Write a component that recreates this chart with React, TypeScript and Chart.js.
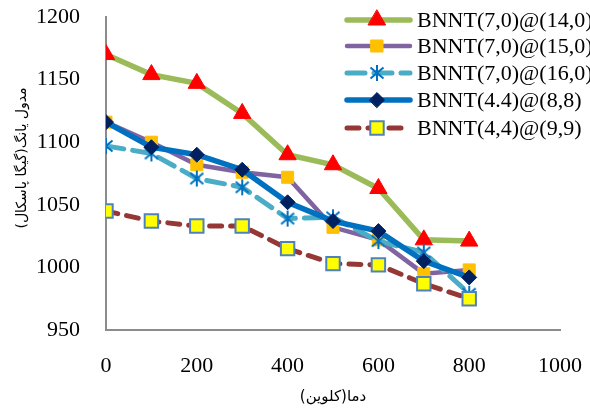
import React, { useEffect, useRef } from "react";
import { Chart, registerables } from "chart.js";
import { drawPoint } from "chart.js/helpers";

Chart.register(...registerables);

const temperatures = [0, 100, 200, 300, 400, 500, 600, 700, 800];
const xTickValues = [0, 200, 400, 600, 800, 1000];
const seriesNames = [
  "BNNT(7,0)@(14,0)",
  "BNNT(7,0)@(15,0)",
  "BNNT(7,0)@(16,0)",
  "BNNT(4.4)@(8,8)",
  "BNNT(4,4)@(9,9)",
];
const s1 = [1170, 1154, 1147, 1123, 1090, 1082, 1063, 1022, 1021];
const s2 = [1116, 1100, 1082, 1076, 1072, 1032, 1022, 995, 998];
const s3 = [1097, 1091, 1071, 1064, 1039, 1040, 1021, 1012, 979];
const s4 = [1116, 1096, 1090, 1078, 1052, 1037, 1029, 1005, 992];
const s5 = [1045, 1037, 1033, 1033, 1015, 1003, 1002, 987, 975];
const xTitle = "دما(کلوین)";
const yTitle = "مدول یانگ(گیگا پاسکال)";

const serif = "'Liberation Serif', 'Times New Roman', serif";
const persian = "'DejaVu Sans', 'Noto Sans', sans-serif";

function makeAsterisk(color: string): HTMLCanvasElement {
  const c = document.createElement("canvas");
  c.width = 18;
  c.height = 18;
  const g = c.getContext("2d")!;
  g.strokeStyle = color;
  g.lineWidth = 2;
  g.lineCap = "butt";
  g.beginPath();
  g.moveTo(9, 1);
  g.lineTo(9, 17);
  g.moveTo(2.5, 3.5);
  g.lineTo(15.5, 14.5);
  g.moveTo(15.5, 3.5);
  g.lineTo(2.5, 14.5);
  g.stroke();
  return c;
}

const legendPlugin = {
  id: "customLegend",
  afterDraw(chart: any) {
    const ctx = chart.ctx;
    const rows = [20, 46, 73, 100, 128];
    chart.data.datasets.forEach((ds: any, i: number) => {
      const y = rows[i];
      ctx.save();
      ctx.strokeStyle = ds.borderColor;
      ctx.lineWidth = ds.borderWidth;
      ctx.lineCap = "round";
      ctx.setLineDash(ds.borderDash || []);
      ctx.beginPath();
      ctx.moveTo(347, y);
      ctx.lineTo(410, y);
      ctx.stroke();
      ctx.setLineDash([]);
      ctx.fillStyle = ds.pointBackgroundColor;
      ctx.strokeStyle = ds.pointBorderColor;
      ctx.lineWidth = ds.pointBorderWidth;
      drawPoint(ctx, { pointStyle: ds.pointStyle, radius: ds.pointRadius, rotation: 0, borderWidth: ds.pointBorderWidth }, 377, y);
      ctx.fillStyle = "#000";
      ctx.font = `22px ${serif}`;
      ctx.textBaseline = "middle";
      ctx.textAlign = "left";
      ctx.fillText(seriesNames[i], 417, y + 1);
      ctx.restore();
    });
    // y axis title
    ctx.save();
    ctx.translate(22, 158);
    ctx.rotate(-Math.PI / 2);
    ctx.fillStyle = "#000";
    ctx.font = `14px ${persian}`;
    ctx.textAlign = "center";
    ctx.textBaseline = "middle";
    ctx.fillText(yTitle, 0, 0);
    ctx.restore();
  },
};

const zeroPad = (s: any) => {
  s.paddingTop = 0;
  s.paddingBottom = 0;
  s.paddingLeft = 0;
  s.paddingRight = 0;
};

export default function App() {
  const ref = useRef<HTMLCanvasElement>(null);
  useEffect(() => {
    const asterisk = makeAsterisk("#0070C0");
    const mk = (
      data: number[],
      color: string,
      width: number,
      dash: number[] | undefined,
      style: any,
      radius: number,
      fill: string,
      border: string,
      bw: number,
      order: number
    ) => ({
      data,
      borderColor: color,
      borderWidth: width,
      borderDash: dash,
      borderCapStyle: "round",
      pointStyle: style,
      pointRadius: radius,
      pointBackgroundColor: fill,
      pointBorderColor: border,
      pointBorderWidth: bw,
      tension: 0,
      order,
    });
    const chart = new Chart(ref.current!, {
      type: "line",
      data: {
        labels: temperatures,
        datasets: [
          mk(s1, "#9BBB59", 5.5, undefined, "triangle", 10, "#FF0000", "#FF0000", 1, 4),
          mk(s2, "#8064A2", 4.5, undefined, "rect", 8.5, "#FFC000", "#FFC000", 1, 3),
          mk(s3, "#4BACC6", 5, [18, 9], asterisk, 8, "#0070C0", "#0070C0", 2, 2),
          mk(s4, "#0070C0", 5.5, undefined, "rectRot", 7.5, "#002060", "#002060", 1, 1),
          mk(s5, "#953735", 5, [12, 9], "rect", 9.5, "#FFFF00", "#4F81BD", 2, 0),
        ] as any,
      },
      options: {
        animation: false,
        responsive: false,
        maintainAspectRatio: false,
        layout: { padding: { top: 17, right: 30, left: 0, bottom: 0 } },
        plugins: { legend: { display: false }, tooltip: { enabled: false } },
        scales: {
          x: {
            type: "linear",
            min: 0,
            max: 1000,
            afterFit: (s: any) => {
              s.height = 79;
              zeroPad(s);
            },
            afterBuildTicks: (s: any) => {
              s.ticks = xTickValues.map((v) => ({ value: v }));
            },
            grid: { display: false },
            border: { display: true, color: "#8C8C8C", width: 2 },
            ticks: {
              color: "#000",
              font: { family: serif, size: 22 },
              padding: 15,
              maxRotation: 0,
              callback: (v: any) => String(v),
            },
            title: {
              display: true,
              text: xTitle,
              color: "#000",
              font: { family: persian, size: 15 },
              padding: { top: 0, bottom: 3 },
            },
          },
          y: {
            min: 950,
            max: 1200,
            afterFit: (s: any) => {
              s.width = 106;
              zeroPad(s);
            },
            grid: { display: false },
            border: { display: true, color: "#8C8C8C", width: 2 },
            ticks: {
              stepSize: 50,
              color: "#000",
              font: { family: serif, size: 22 },
              padding: 18,
              callback: (v: any) => String(v),
            },
          },
        },
      } as any,
      plugins: [legendPlugin],
    });
    return () => chart.destroy();
  }, []);
  return (
    <div style={{ position: "fixed", left: 0, top: 0, width: 590, height: 409, background: "#fff" }}>
      <canvas ref={ref} width={590} height={409} style={{ width: 590, height: 409 }} />
    </div>
  );
}
